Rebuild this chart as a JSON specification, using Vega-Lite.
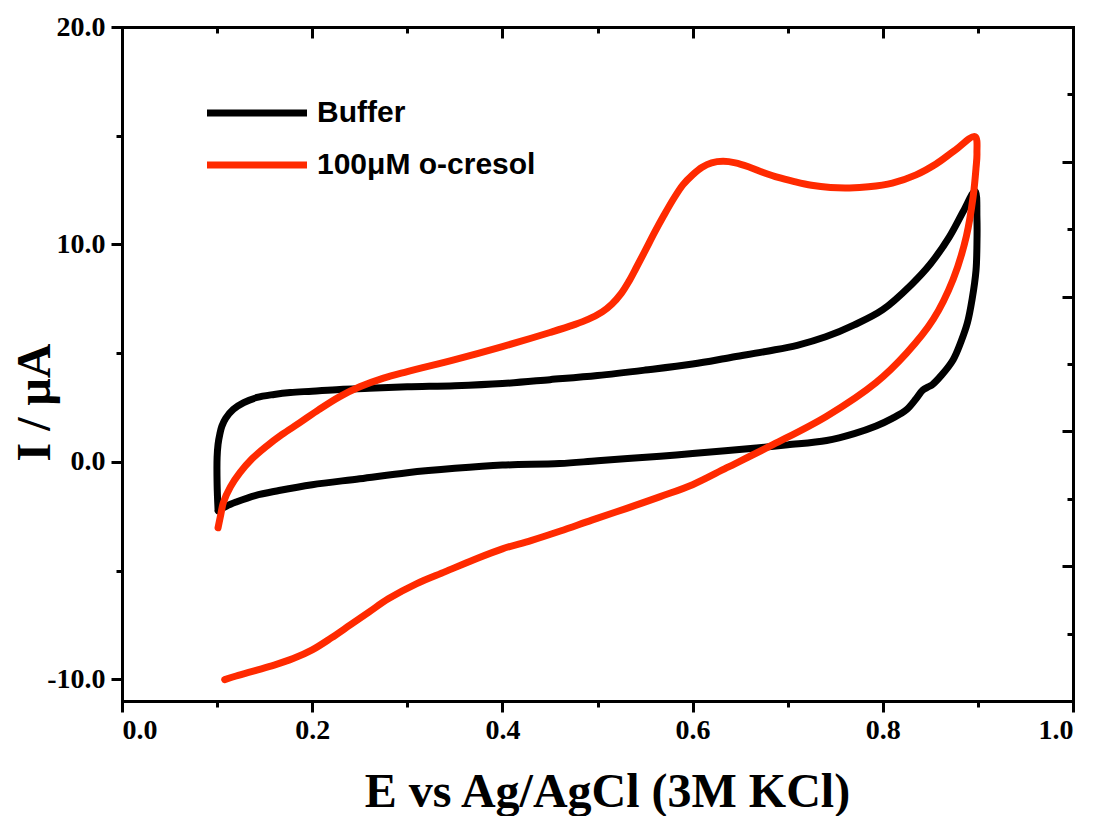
{
  "$schema": "https://vega.github.io/schema/vega-lite/v6.json",
  "width": 951,
  "height": 674,
  "autosize": {"type": "none"},
  "padding": {"left": 122, "top": 27, "right": 20, "bottom": 115},
  "background": "white",
  "data": {"values": [
    {"s":"Buffer","i":1,"E":0.101,"I":-2.2},
    {"s":"Buffer","i":2,"E":0.100,"I":-1.0},
    {"s":"Buffer","i":3,"E":0.100,"I":0.2},
    {"s":"Buffer","i":4,"E":0.101,"I":0.8},
    {"s":"Buffer","i":5,"E":0.103,"I":1.3},
    {"s":"Buffer","i":6,"E":0.105,"I":1.64},
    {"s":"Buffer","i":7,"E":0.109,"I":2.0},
    {"s":"Buffer","i":8,"E":0.117,"I":2.41},
    {"s":"Buffer","i":9,"E":0.128,"I":2.72},
    {"s":"Buffer","i":10,"E":0.142,"I":2.96},
    {"s":"Buffer","i":11,"E":0.16,"I":3.1},
    {"s":"Buffer","i":12,"E":0.177,"I":3.19},
    {"s":"Buffer","i":13,"E":0.2,"I":3.25},
    {"s":"Buffer","i":14,"E":0.229,"I":3.33},
    {"s":"Buffer","i":15,"E":0.26,"I":3.38},
    {"s":"Buffer","i":16,"E":0.3,"I":3.45},
    {"s":"Buffer","i":17,"E":0.35,"I":3.5},
    {"s":"Buffer","i":18,"E":0.4,"I":3.6},
    {"s":"Buffer","i":19,"E":0.45,"I":3.78},
    {"s":"Buffer","i":20,"E":0.5,"I":3.97},
    {"s":"Buffer","i":21,"E":0.55,"I":4.22},
    {"s":"Buffer","i":22,"E":0.6,"I":4.5},
    {"s":"Buffer","i":23,"E":0.64,"I":4.8},
    {"s":"Buffer","i":24,"E":0.68,"I":5.1},
    {"s":"Buffer","i":25,"E":0.71,"I":5.36},
    {"s":"Buffer","i":26,"E":0.74,"I":5.75},
    {"s":"Buffer","i":27,"E":0.77,"I":6.3},
    {"s":"Buffer","i":28,"E":0.8,"I":7.0},
    {"s":"Buffer","i":29,"E":0.83,"I":8.15},
    {"s":"Buffer","i":30,"E":0.85,"I":9.1},
    {"s":"Buffer","i":31,"E":0.87,"I":10.35},
    {"s":"Buffer","i":32,"E":0.885,"I":11.55},
    {"s":"Buffer","i":33,"E":0.897,"I":12.45},
    {"s":"Buffer","i":34,"E":0.899,"I":11.2},
    {"s":"Buffer","i":35,"E":0.899,"I":10.0},
    {"s":"Buffer","i":36,"E":0.898,"I":8.8},
    {"s":"Buffer","i":37,"E":0.894,"I":7.5},
    {"s":"Buffer","i":38,"E":0.889,"I":6.4},
    {"s":"Buffer","i":39,"E":0.882,"I":5.5},
    {"s":"Buffer","i":40,"E":0.874,"I":4.7},
    {"s":"Buffer","i":41,"E":0.862,"I":4.0},
    {"s":"Buffer","i":42,"E":0.852,"I":3.55},
    {"s":"Buffer","i":43,"E":0.848,"I":3.45},
    {"s":"Buffer","i":44,"E":0.842,"I":3.3},
    {"s":"Buffer","i":45,"E":0.835,"I":2.9},
    {"s":"Buffer","i":46,"E":0.825,"I":2.4},
    {"s":"Buffer","i":47,"E":0.81,"I":2.0},
    {"s":"Buffer","i":48,"E":0.793,"I":1.65},
    {"s":"Buffer","i":49,"E":0.77,"I":1.3},
    {"s":"Buffer","i":50,"E":0.741,"I":0.98},
    {"s":"Buffer","i":51,"E":0.7,"I":0.78},
    {"s":"Buffer","i":52,"E":0.67,"I":0.65},
    {"s":"Buffer","i":53,"E":0.6,"I":0.38},
    {"s":"Buffer","i":54,"E":0.566,"I":0.26},
    {"s":"Buffer","i":55,"E":0.5,"I":0.05},
    {"s":"Buffer","i":56,"E":0.46,"I":-0.08},
    {"s":"Buffer","i":57,"E":0.4,"I":-0.15},
    {"s":"Buffer","i":58,"E":0.35,"I":-0.3},
    {"s":"Buffer","i":59,"E":0.3,"I":-0.5},
    {"s":"Buffer","i":60,"E":0.25,"I":-0.78},
    {"s":"Buffer","i":61,"E":0.2,"I":-1.05},
    {"s":"Buffer","i":62,"E":0.165,"I":-1.32},
    {"s":"Buffer","i":63,"E":0.14,"I":-1.55},
    {"s":"Buffer","i":64,"E":0.12,"I":-1.85},
    {"s":"Buffer","i":65,"E":0.11,"I":-2.03},
    {"s":"Buffer","i":66,"E":0.101,"I":-2.25},
    {"s":"100μM o-cresol","i":1,"E":0.101,"I":-3.03},
    {"s":"100μM o-cresol","i":2,"E":0.104,"I":-2.4},
    {"s":"100μM o-cresol","i":3,"E":0.1065,"I":-1.88},
    {"s":"100μM o-cresol","i":4,"E":0.114,"I":-1.15},
    {"s":"100μM o-cresol","i":5,"E":0.124,"I":-0.5},
    {"s":"100μM o-cresol","i":6,"E":0.137,"I":0.15},
    {"s":"100μM o-cresol","i":7,"E":0.152,"I":0.72},
    {"s":"100μM o-cresol","i":8,"E":0.168,"I":1.25},
    {"s":"100μM o-cresol","i":9,"E":0.187,"I":1.8},
    {"s":"100μM o-cresol","i":10,"E":0.207,"I":2.4},
    {"s":"100μM o-cresol","i":11,"E":0.229,"I":3.0},
    {"s":"100μM o-cresol","i":12,"E":0.25,"I":3.45},
    {"s":"100μM o-cresol","i":13,"E":0.275,"I":3.85},
    {"s":"100μM o-cresol","i":14,"E":0.3,"I":4.15},
    {"s":"100μM o-cresol","i":15,"E":0.35,"I":4.7},
    {"s":"100μM o-cresol","i":16,"E":0.4,"I":5.3},
    {"s":"100μM o-cresol","i":17,"E":0.45,"I":5.95},
    {"s":"100μM o-cresol","i":18,"E":0.475,"I":6.3},
    {"s":"100μM o-cresol","i":19,"E":0.49,"I":6.55},
    {"s":"100μM o-cresol","i":20,"E":0.505,"I":6.9},
    {"s":"100μM o-cresol","i":21,"E":0.515,"I":7.25},
    {"s":"100μM o-cresol","i":22,"E":0.525,"I":7.75},
    {"s":"100μM o-cresol","i":23,"E":0.533,"I":8.3},
    {"s":"100μM o-cresol","i":24,"E":0.541,"I":8.95},
    {"s":"100μM o-cresol","i":25,"E":0.55,"I":9.7},
    {"s":"100μM o-cresol","i":26,"E":0.56,"I":10.55},
    {"s":"100μM o-cresol","i":27,"E":0.57,"I":11.35},
    {"s":"100μM o-cresol","i":28,"E":0.58,"I":12.1},
    {"s":"100μM o-cresol","i":29,"E":0.59,"I":12.75},
    {"s":"100μM o-cresol","i":30,"E":0.6,"I":13.2},
    {"s":"100μM o-cresol","i":31,"E":0.61,"I":13.55},
    {"s":"100μM o-cresol","i":32,"E":0.62,"I":13.75},
    {"s":"100μM o-cresol","i":33,"E":0.632,"I":13.82},
    {"s":"100μM o-cresol","i":34,"E":0.645,"I":13.75},
    {"s":"100μM o-cresol","i":35,"E":0.66,"I":13.55},
    {"s":"100μM o-cresol","i":36,"E":0.675,"I":13.3},
    {"s":"100μM o-cresol","i":37,"E":0.69,"I":13.08},
    {"s":"100μM o-cresol","i":38,"E":0.706,"I":12.9},
    {"s":"100μM o-cresol","i":39,"E":0.725,"I":12.72},
    {"s":"100μM o-cresol","i":40,"E":0.745,"I":12.62},
    {"s":"100μM o-cresol","i":41,"E":0.765,"I":12.6},
    {"s":"100μM o-cresol","i":42,"E":0.785,"I":12.65},
    {"s":"100μM o-cresol","i":43,"E":0.81,"I":12.82},
    {"s":"100μM o-cresol","i":44,"E":0.835,"I":13.2},
    {"s":"100μM o-cresol","i":45,"E":0.856,"I":13.7},
    {"s":"100μM o-cresol","i":46,"E":0.875,"I":14.3},
    {"s":"100μM o-cresol","i":47,"E":0.897,"I":14.96},
    {"s":"100μM o-cresol","i":48,"E":0.899,"I":14.2},
    {"s":"100μM o-cresol","i":49,"E":0.898,"I":13.5},
    {"s":"100μM o-cresol","i":50,"E":0.895,"I":12.2},
    {"s":"100μM o-cresol","i":51,"E":0.888,"I":10.4},
    {"s":"100μM o-cresol","i":52,"E":0.874,"I":8.4},
    {"s":"100μM o-cresol","i":53,"E":0.853,"I":6.55},
    {"s":"100μM o-cresol","i":54,"E":0.825,"I":5.0},
    {"s":"100μM o-cresol","i":55,"E":0.793,"I":3.65},
    {"s":"100μM o-cresol","i":56,"E":0.741,"I":2.1},
    {"s":"100μM o-cresol","i":57,"E":0.685,"I":0.8},
    {"s":"100μM o-cresol","i":58,"E":0.636,"I":-0.27},
    {"s":"100μM o-cresol","i":59,"E":0.6,"I":-1.05},
    {"s":"100μM o-cresol","i":60,"E":0.566,"I":-1.6},
    {"s":"100μM o-cresol","i":61,"E":0.53,"I":-2.15},
    {"s":"100μM o-cresol","i":62,"E":0.494,"I":-2.68},
    {"s":"100μM o-cresol","i":63,"E":0.461,"I":-3.18},
    {"s":"100μM o-cresol","i":64,"E":0.43,"I":-3.62},
    {"s":"100μM o-cresol","i":65,"E":0.4,"I":-4.0},
    {"s":"100μM o-cresol","i":66,"E":0.37,"I":-4.5},
    {"s":"100μM o-cresol","i":67,"E":0.34,"I":-5.05},
    {"s":"100μM o-cresol","i":68,"E":0.31,"I":-5.6},
    {"s":"100μM o-cresol","i":69,"E":0.28,"I":-6.3},
    {"s":"100μM o-cresol","i":70,"E":0.26,"I":-6.9},
    {"s":"100μM o-cresol","i":71,"E":0.24,"I":-7.5},
    {"s":"100μM o-cresol","i":72,"E":0.22,"I":-8.1},
    {"s":"100μM o-cresol","i":73,"E":0.2,"I":-8.65},
    {"s":"100μM o-cresol","i":74,"E":0.18,"I":-9.05},
    {"s":"100μM o-cresol","i":75,"E":0.16,"I":-9.35},
    {"s":"100μM o-cresol","i":76,"E":0.14,"I":-9.6},
    {"s":"100μM o-cresol","i":77,"E":0.12,"I":-9.85},
    {"s":"100μM o-cresol","i":78,"E":0.108,"I":-10.02}
  ]},
  "layer": [
    {
      "transform": [{"filter": "datum.s === 'Buffer'"}],
      "mark": {"type": "line", "strokeWidth": 7, "strokeCap": "round", "strokeJoin": "round", "interpolate": "catmull-rom"},
      "encoding": {
        "x": {"field": "E", "type": "quantitative",
          "scale": {"domain": [0, 1], "nice": false, "zero": false},
          "axis": {"orient": "bottom", "values": [0, 0.1, 0.2, 0.3, 0.4, 0.5, 0.6, 0.7, 0.8, 0.9, 1.0],
            "labelExpr": "round(datum.value*10) % 2 === 0 ? format(datum.value, '.1f') : ''",
            "tickSize": {"condition": {"test": "round(datum.value*10) % 2 === 0", "value": 11}, "value": 6},
            "labelPadding": 4, "labelOverlap": false,
            "title": "E vs Ag/AgCl (3M KCl)", "titleX": 485, "titleY": 105,
            "titleBaseline": "alphabetic", "titleAlign": "center"}},
        "y": {"field": "I", "type": "quantitative",
          "scale": {"domain": [-11, 20], "nice": false, "zero": false},
          "axis": {"orient": "left", "values": [-10, -5, 0, 5, 10, 15, 20],
            "labelExpr": "datum.value % 10 === 0 ? (datum.value < 0 ? '-' : '') + format(abs(datum.value), '.1f') : ''",
            "tickSize": {"condition": {"test": "datum.value % 10 === 0", "value": 11}, "value": 6},
            "labelPadding": 6, "labelOverlap": false,
            "title": "I / μA", "titleX": -73, "titleY": 375, "titleAngle": -90,
            "titleBaseline": "alphabetic", "titleAlign": "center"}},
        "color": {"field": "s", "type": "nominal",
          "scale": {"domain": ["Buffer", "100μM o-cresol"], "range": ["#000000", "#ff2a00"]},
          "legend": {"orient": "none", "legendX": 120, "legendY": 71, "title": null,
            "symbolType": "M-5,0H5", "symbolSize": 400, "symbolStrokeWidth": 7,
            "labelFont": "Liberation Sans", "labelFontWeight": "bold", "labelFontSize": 30,
            "labelColor": "#000000", "labelOffset": 45, "labelLimit": 500, "rowPadding": 22, "padding": 0}},
        "order": {"field": "i", "type": "quantitative"}
      }
    },
    {
      "transform": [{"filter": "datum.s !== 'Buffer'"}],
      "mark": {"type": "line", "strokeWidth": 7, "strokeCap": "round", "strokeJoin": "round", "interpolate": "catmull-rom"},
      "encoding": {
        "x": {"field": "E", "type": "quantitative",
          "scale": {"domain": [0, 1], "nice": false, "zero": false},
          "axis": {"orient": "top", "values": [0, 0.1, 0.2, 0.3, 0.4, 0.5, 0.6, 0.7, 0.8, 0.9, 1.0],
            "labels": false, "title": null,
            "tickSize": {"condition": {"test": "round(datum.value*10) % 2 === 0", "value": -11}, "value": -6}}},
        "y": {"field": "I", "type": "quantitative",
          "scale": {"domain": [-11, 20], "nice": false, "zero": false},
          "axis": {"orient": "right", "values": [-7.9, -4.8, -1.7, 1.4, 4.5, 7.6, 10.7, 13.8, 16.9],
            "labels": false, "title": null,
            "tickSize": {"condition": {"test": "indexof([-4.8, 1.4, 7.6, 13.8], datum.value) >= 0", "value": -11}, "value": -6}}},
        "color": {"field": "s", "type": "nominal",
          "scale": {"domain": ["Buffer", "100μM o-cresol"], "range": ["#000000", "#ff2a00"]},
          "legend": {"orient": "none", "legendX": 120, "legendY": 71, "title": null,
            "symbolType": "M-5,0H5", "symbolSize": 400, "symbolStrokeWidth": 7,
            "labelFont": "Liberation Sans", "labelFontWeight": "bold", "labelFontSize": 30,
            "labelColor": "#000000", "labelOffset": 45, "labelLimit": 500, "rowPadding": 22, "padding": 0}},
        "order": {"field": "i", "type": "quantitative"}
      }
    }
  ],
  "resolve": {"axis": {"x": "independent", "y": "independent"}},
  "config": {
    "view": {"stroke": null},
    "axis": {
      "grid": false,
      "domainColor": "#000000", "domainWidth": 3, "domainCap": "square",
      "tickColor": "#000000", "tickWidth": 3,
      "labelFont": "Liberation Serif", "labelFontWeight": "bold", "labelFontSize": 28, "labelColor": "#000000",
      "titleFont": "Liberation Serif", "titleFontWeight": "bold", "titleFontSize": 48, "titleColor": "#000000"
    }
  }
}
